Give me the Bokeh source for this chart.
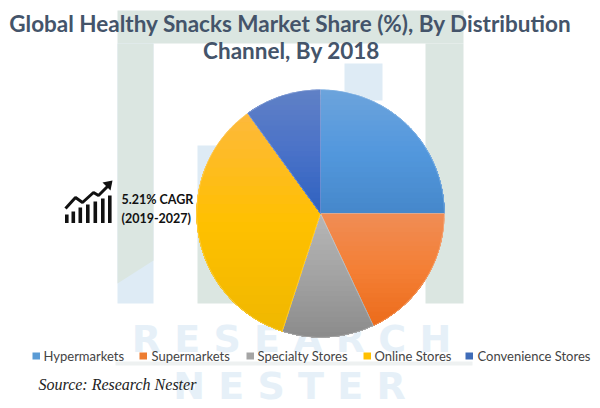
from bokeh.plotting import figure
from bokeh.models import Range1d
from bokeh.core.properties import value
from bokeh.embed import file_html
from bokeh.resources import INLINE
import math

title_lines = ["Global Healthy Snacks Market Share (%), By Distribution", "Channel, By 2018"]
categories = ["Hypermarkets", "Supermarkets", "Specialty Stores", "Online Stores", "Convenience Stores"]
shares = [25, 18, 12, 35, 10]
colors_top = ["#6ba3dc", "#f08c54", "#b6b6b6", "#fdb93a", "#5f80c6"]
colors_mid = ["#5398dd", "#f47f35", "#a3a3a3", "#ffc000", "#4a72c8"]
colors_bottom = ["#4688cb", "#ec6c1c", "#8c8c8c", "#f0b800", "#2f62c0"]
legend_colors = ["#5a9bd5", "#ed7d31", "#a5a5a5", "#ffc000", "#3f6cb8"]
cagr_lines = ["5.21% CAGR", "(2019-2027)"]
source_text = "Source: Research Nester"
watermark_lines = ["R E S E A R C H", "N E S T E R"]

W, H = 600, 408
p = figure(width=W, height=H, output_backend="svg", toolbar_location=None,
           x_range=Range1d(0, 600), y_range=Range1d(0, 408), min_border=0)
p.axis.visible = False
p.grid.visible = False
p.outline_line_color = None
p.background_fill_color = "white"
p.border_fill_color = "white"

def Y(py):
    return 408 - py

GREEN = "#dbe6e1"
BLUE = "#deebf5"

def box(x0, y0, x1, y1, color):
    p.quad(left=x0, right=x1, top=Y(y0), bottom=Y(y1), fill_color=color, line_color=None)

# watermark: frame and columns
box(117, 10, 463, 43, GREEN)
box(117, 43, 153, 303, BLUE)
p.patch([117, 153, 153, 117], [Y(43), Y(43), Y(260), Y(283)], fill_color=GREEN, line_color=None)
box(425, 43, 463, 303, GREEN)
box(197, 145, 236, 215, BLUE)
box(197, 215, 236, 303, GREEN)
box(344, 63, 382, 100, BLUE)
box(115, 361, 472, 365, "#eef1f1")

for line, px, py in zip(watermark_lines, [291, 289], [338, 385]):
    p.text(x=[px], y=[Y(py)], text=[line], text_font=value("DejaVu Sans"), text_font_style="bold",
           text_font_size="38px", text_color="#e6f0f8", text_align="center", text_baseline="middle")

# pie
cx, cy, r = 320, Y(213), 124
total = sum(shares)

def lerp(c0, c1, t):
    a = [int(c0[i:i+2], 16) for i in (1, 3, 5)]
    b = [int(c1[i:i+2], 16) for i in (1, 3, 5)]
    return "#%02x%02x%02x" % tuple(round(u + (v - u) * t) for u, v in zip(a, b))

def ramp(c0, cm, c1, t):
    return lerp(c0, cm, t * 2) if t < .5 else lerp(cm, c1, t * 2 - 1)

def clip_below(xs, ys, limit):
    ox, oy = [], []
    n = len(xs)
    for i in range(n):
        x0, y0, x1, y1 = xs[i], ys[i], xs[(i+1) % n], ys[(i+1) % n]
        if y0 <= limit:
            ox.append(x0); oy.append(y0)
        if (y0 <= limit) != (y1 <= limit):
            t = (limit - y0) / (y1 - y0)
            ox.append(x0 + (x1 - x0) * t); oy.append(limit)
    return ox, oy

acc = 0.0
for share, c0, cm, c1 in zip(shares, colors_top, colors_mid, colors_bottom):
    a0 = math.pi / 2 - 2 * math.pi * acc / total
    a1 = math.pi / 2 - 2 * math.pi * (acc + share) / total
    acc += share
    p.wedge(x=[cx], y=[cy], radius=r, start_angle=a1, end_angle=a0, fill_color=cm, line_color=None)
    steps = max(8, int(share * 4))
    xs = [cx] + [cx + r * math.cos(a0 + (a1 - a0) * k / steps) for k in range(steps + 1)]
    ys = [cy] + [cy + r * math.sin(a0 + (a1 - a0) * k / steps) for k in range(steps + 1)]
    top, bot = max(ys), min(ys)
    bands = 24
    for b in range(bands):
        lim = top - (top - bot) * b / bands
        bx, by = clip_below(xs, ys, lim)
        if len(bx) > 2:
            p.patch(bx, by, fill_color=ramp(c0, cm, c1, b / (bands - 1)), line_color=None)
    p.wedge(x=[cx], y=[cy], radius=r, start_angle=a1, end_angle=a0, fill_color=None,
            line_color="white", line_alpha=0.3, line_width=0.8)

# title
for line, px, py in zip(title_lines, [290, 291], [23, 50]):
    p.text(x=[px], y=[Y(py)], text=[line], text_font=value("Lato"), text_font_style="bold", text_font_size="22.5px",
           text_color="#44546a", text_align="center", text_baseline="middle")

# CAGR note + icon
for line, py in zip(cagr_lines, [199, 218]):
    p.text(x=[121], y=[Y(py)], text=[line], text_font=value("Lato"), text_font_style="bold", text_font_size="12.5px",
           text_color="#111111", text_align="left", text_baseline="middle")
for x0, top_y in zip([64.5, 71, 78, 85.5, 93, 100.5, 107.5], [214, 211, 207, 204, 201, 198, 195]):
    box(x0, top_y, x0 + 3.6, 222.5, "#111111")
p.line([65, 75, 82, 93, 98, 108], [Y(208), Y(197), Y(202), Y(192), Y(195), Y(185)], line_color="#111111", line_width=3)
p.patch([102, 112, 110], [Y(182), Y(180), Y(190)], fill_color="#111111", line_color=None)

# legend
for name, col, sx, tx in zip(categories, legend_colors, [32, 139, 246, 363, 465], [43, 151, 257, 374, 477]):
    box(sx, 352, sx + 7.5, 359, col)
    p.text(x=[tx], y=[Y(355.5)], text=[name], text_font=value("Lato"), text_font_size="13px", text_color="#444444",
           text_align="left", text_baseline="middle")

p.text(x=[38], y=[Y(384)], text=[source_text], text_font=value("Liberation Serif"), text_font_style="italic",
       text_font_size="16px", text_color="#222222", text_align="left", text_baseline="middle")

open("out.html", "w").write(file_html(p, INLINE))
